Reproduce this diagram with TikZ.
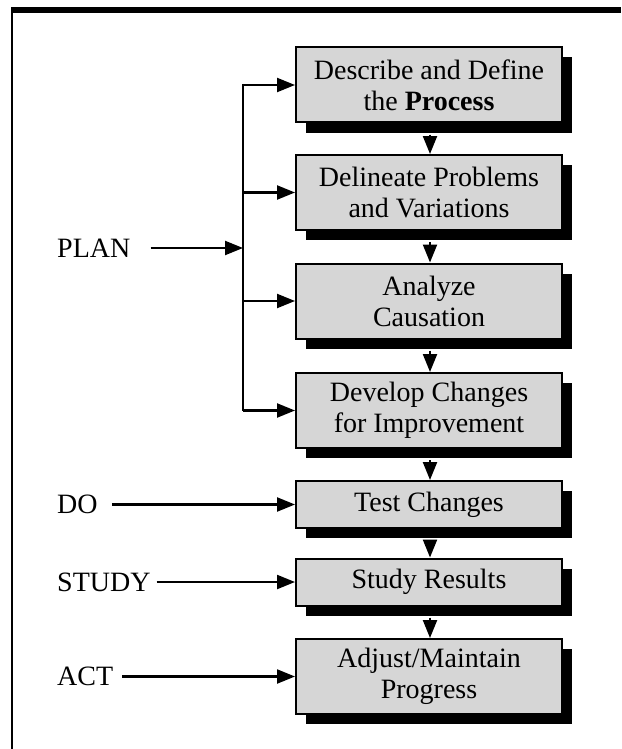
\documentclass[tikz,border=0pt]{standalone}
\usepackage{fontspec}
\setmainfont{Liberation Serif}
\usetikzlibrary{arrows.meta,shadows}
\begin{document}
\begin{tikzpicture}[x=1pt,y=-1pt,
  stepbox/.style={draw=black,line width=2pt,fill=black!16,
    minimum width=266pt,align=center,inner sep=0pt,
    font=\fontsize{28}{31}\selectfont,
    drop shadow={shadow xshift=10pt,shadow yshift=-10pt,fill=black,opacity=1}},
  tall/.style={minimum height=75pt},
  short/.style={minimum height=47pt},
  phase/.style={anchor=west,inner sep=0pt,font=\fontsize{28}{31}\selectfont},
  arr/.style={line width=2.2pt,-{Triangle[length=18pt,width=14pt]}},
  wire/.style={line width=2.2pt}]
\useasboundingbox (0,0) rectangle (621,749);
\fill[white] (0,0) rectangle (621,749);
% frame
\draw[line width=6pt] (11,10) -- (621,10);
\draw[line width=2.6pt] (12,8) -- (12,749);
% process steps
\node[stepbox,tall]  (b1) at (429,85)    {Describe and Define\\the \textbf{Process}};
\node[stepbox,tall]  (b2) at (429,192.5) {Delineate Problems\\and Variations};
\node[stepbox,tall]  (b3) at (429,301)   {Analyze\\Causation};
\node[stepbox,tall]  (b4) at (429,410.5) {Develop Changes\\for Improvement};
\node[stepbox,short] (b5) at (429,504.5) {Test Changes};
\node[stepbox,short] (b6) at (429,582)   {Study Results};
\node[stepbox,tall]  (b7) at (429,676.5) {Adjust/Maintain\\Progress};
% flow between steps
\foreach \a/\b in {b1/b2,b2/b3,b3/b4,b4/b5,b5/b6,b6/b7}
  \draw[arr] ([xshift=1pt,yshift=-11pt]\a.south) -- ([xshift=1pt]\b.north);
% phase labels
\node[phase] (plan)  at (57,248)   {PLAN};
\node[phase] (do)    at (57,504.5) {DO};
\node[phase] (study) at (57,582)   {STUDY};
\node[phase] (act)   at (57,676.5) {ACT};
% PLAN bracket
\coordinate (br1) at (243,85);
\coordinate (br2) at (243,192.5);
\coordinate (br3) at (243,301);
\coordinate (br4) at (243,410.5);
\coordinate (brm) at (243,248);
\draw[wire] ([yshift=1.1pt]br1) -- (br4);
\draw[arr] (br1) -- (b1.west);
\draw[arr] (br2) -- (b2.west);
\draw[arr] (br3) -- (b3.west);
\draw[arr] (br4) -- (b4.west);
\draw[arr] ([xshift=20pt]plan.east) -- (brm);
\draw[arr] ([xshift=14pt]do.east) -- (b5.west);
\draw[arr] ([xshift=6pt]study.east) -- (b6.west);
\draw[arr] ([xshift=9pt]act.east) -- (b7.west);
\end{tikzpicture}
\end{document}
